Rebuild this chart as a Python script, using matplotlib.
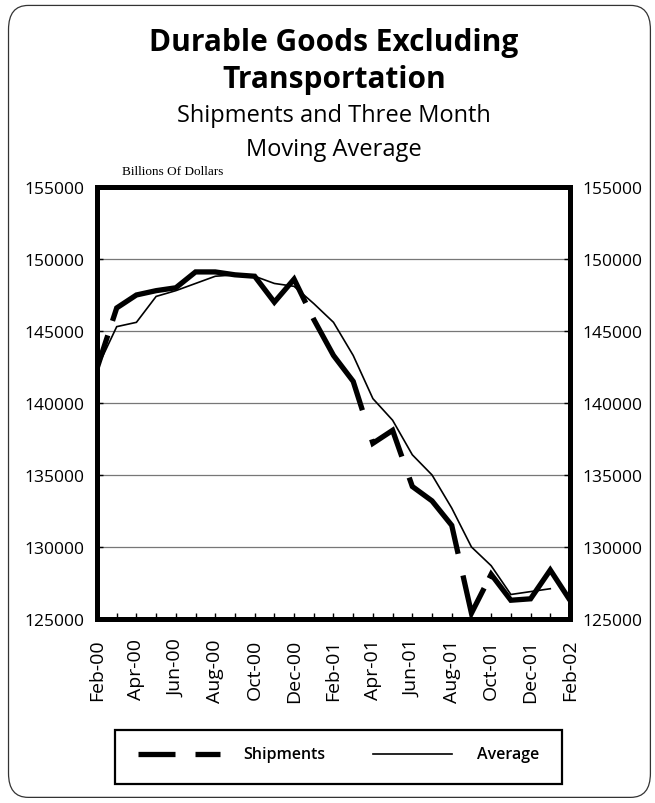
import numpy as np
import matplotlib
matplotlib.use("Agg")
import matplotlib.pyplot as plt
from matplotlib.patches import FancyBboxPatch, Rectangle

plt.rcParams['font.family'] = ['Open Sans', 'DejaVu Sans']
plt.rcParams['lines.scale_dashes'] = False

# monthly data, Feb-00 .. Feb-02
months = ['Feb-00', 'Mar-00', 'Apr-00', 'May-00', 'Jun-00', 'Jul-00', 'Aug-00',
          'Sep-00', 'Oct-00', 'Nov-00', 'Dec-00', 'Jan-01', 'Feb-01', 'Mar-01',
          'Apr-01', 'May-01', 'Jun-01', 'Jul-01', 'Aug-01', 'Sep-01', 'Oct-01',
          'Nov-01', 'Dec-01', 'Jan-02', 'Feb-02']
shipments = [142400, 146600, 147500, 147800, 148000, 149100, 149100,
             148900, 148800, 147000, 148600, 145800, 143300, 141500,
             137200, 138100, 134200, 133200, 131500, 125400, 128100,
             126300, 126400, 128400, 126300]
average = [142400, 145300, 145600, 147400, 147800, 148300, 148800,
           148900, 148800, 148300, 148100, 146900, 145600, 143300,
           140300, 138800, 136400, 135000, 132700, 130000, 128700,
           126700, 126900, 127100, np.nan]
yticks = [125000, 130000, 135000, 140000, 145000, 150000, 155000]

# irregular dash pattern of the original (points)
ship_dashes = (25, 11, 181, 12, 76, 22, 40, 16, 68, 16, 48, 8, 300, 10)

fig = plt.figure(figsize=(6.55, 8.04), dpi=100)

# rounded frame round the whole figure
frame = FancyBboxPatch((0.013, 0.007), 0.98, 0.985, boxstyle='round,pad=0,rounding_size=0.03',
                       transform=fig.transFigure, fill=False, edgecolor='#333333', linewidth=0.9)
fig.patches.append(frame)

fig.text(0.51, 0.947, 'Durable Goods Excluding', ha='center', va='center', fontsize=21.5, fontweight='bold')
fig.text(0.51, 0.900, 'Transportation', ha='center', va='center', fontsize=21.5, fontweight='bold')
fig.text(0.51, 0.856, 'Shipments and Three Month', ha='center', va='center', fontsize=17)
fig.text(0.51, 0.813, 'Moving Average', ha='center', va='center', fontsize=17)
fig.text(0.186, 0.786, 'Billions Of Dollars', ha='left', va='center', fontsize=9.5,
         family='Liberation Serif')

ax = fig.add_axes([0.1481, 0.2289, 0.7221, 0.5373])
x = np.arange(len(months))
ax.plot(x, average, color='black', linewidth=1.2, solid_joinstyle='miter')
ax.plot(x, shipments, color='black', linewidth=3.8, linestyle=(0, ship_dashes),
        dash_capstyle='butt', dash_joinstyle='miter')

ax.set_xlim(0, len(months) - 1)
ax.set_ylim(125000, 155000)
ax.set_yticks(yticks)
ax.set_yticklabels([str(v) for v in yticks])
ax.set_xticks(x[::2])
ax.set_xticklabels(months[::2], rotation=90, fontsize=14)
ax.set_xticks(x, minor=True)
ax.grid(axis='y', color='#777777', linewidth=0.9)
ax.set_axisbelow(True)
for s in ax.spines.values():
    s.set_linewidth(3.6)
ax.tick_params(axis='y', which='both', direction='in', length=4, width=1,
               left=True, right=True, labelleft=True, labelright=True, labelsize=12.5, pad=9)
ax.tick_params(axis='x', which='both', direction='in', length=4, width=1, pad=14)

# legend box
lax = fig.add_axes([115 / 655, 1 - 785 / 804, (562 - 115) / 655, (785 - 731) / 804])
lax.set_xlim(115, 562)
lax.set_ylim(785, 731)
lax.axis('off')
lax.add_patch(Rectangle((115, 731), 447, 54, fill=False, edgecolor='black', linewidth=1.6, clip_on=False))
lax.plot([138, 175], [755, 755], color='black', linewidth=3.8, solid_capstyle='butt')
lax.plot([195, 220], [755, 755], color='black', linewidth=3.8, solid_capstyle='butt')
lax.text(243, 755, 'Shipments', ha='left', va='center', fontsize=11.5, fontweight='semibold')
lax.plot([373, 452], [755, 755], color='black', linewidth=1.2)
lax.text(477, 755, 'Average', ha='left', va='center', fontsize=11.5, fontweight='semibold')

fig.savefig('out.png', dpi=100)
